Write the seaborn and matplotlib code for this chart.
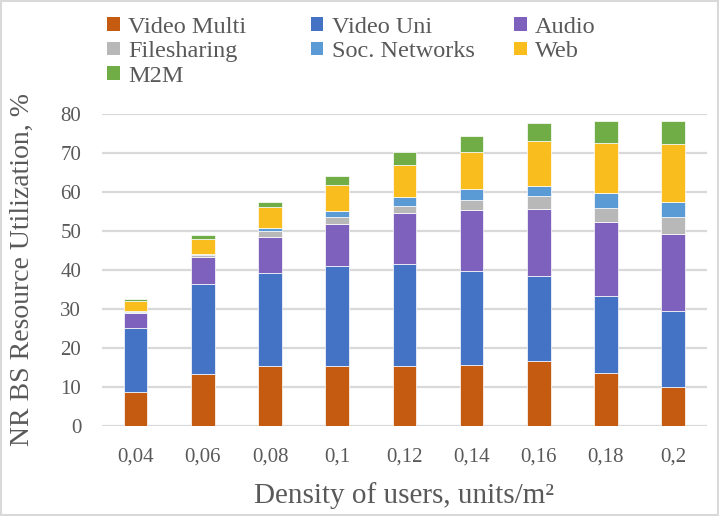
import numpy as np
import pandas as pd
import matplotlib
matplotlib.use("Agg")
import matplotlib.pyplot as plt
import seaborn as sns
from matplotlib.patches import Patch, Rectangle

# Densities of users (category labels use a decimal comma)
densities = ["0,04", "0,06", "0,08", "0,1", "0,12", "0,14", "0,16", "0,18", "0,2"]

# Per-service share of NR BS resource utilization, %
video_multi = [8.6, 13.3, 15.2, 15.2, 15.2, 15.7, 16.7, 13.4, 10.0]
video_uni = [16.5, 23.2, 24.1, 25.7, 26.2, 24.1, 21.8, 19.9, 19.5]
audio = [3.9, 6.7, 9.2, 10.8, 13.2, 15.6, 17.0, 18.9, 19.8]
filesharing = [0.3, 0.6, 1.4, 1.9, 1.9, 2.5, 3.4, 3.8, 4.3]
soc_networks = [0.2, 0.3, 0.9, 1.5, 2.2, 2.8, 2.7, 3.7, 3.8]
web = [2.6, 3.8, 5.3, 6.6, 8.1, 9.5, 11.5, 12.9, 14.8]
m2m = [0.4, 1.0, 1.3, 2.3, 3.5, 4.2, 4.7, 5.7, 6.1]

series_names = ["Video Multi", "Video Uni", "Audio", "Filesharing",
                "Soc. Networks", "Web", "M2M"]
series_values = [video_multi, video_uni, audio, filesharing,
                 soc_networks, web, m2m]
series_colors = ["#C55A11", "#4472C4", "#7E60BD", "#B8B8B8",
                 "#5B9BD5", "#FABD1E", "#70AD47"]

text_color = "#595959"

sns.set_theme(style="white")
plt.rcParams["font.family"] = ["Liberation Serif", "DejaVu Serif"]

records = []
for name, vals in zip(series_names, series_values):
    for d, v in zip(densities, vals):
        records.append({"density": d, "service": name, "value": v})
df = pd.DataFrame(records)

fig = plt.figure(figsize=(7.19, 5.16), dpi=100)
ax = fig.add_axes([0.142, 0.175, 0.841, 0.604])

bottom = np.zeros(len(densities))
for name, color in zip(series_names, series_colors):
    sub = df[df["service"] == name]
    sns.barplot(data=sub, x="density", y="value", order=densities,
                color=color, saturation=1, width=0.35, bottom=bottom,
                edgecolor="white", linewidth=0.5, ax=ax)
    bottom = bottom + sub["value"].to_numpy()

ax.set_ylim(0, 80)
ax.set_yticks(range(0, 81, 10))
ax.set_xlim(-0.5, len(densities) - 0.5)
ax.yaxis.grid(True, color="#D9D9D9", linewidth=1.6)
ax.set_axisbelow(True)
for s in ax.spines.values():
    s.set_visible(False)
ax.tick_params(axis="both", length=0, labelsize=15, colors=text_color)
ax.tick_params(axis="y", pad=15)
ax.tick_params(axis="x", pad=16)
ax.set_ylabel("NR BS Resource Utilization, %", fontsize=20,
              color=text_color, labelpad=18)
ax.set_xlabel("Density of users, units/m\u00b2", fontsize=21,
              color=text_color, labelpad=11)

# Legend: three fixed-width columns, filled row by row
columns = [[0, 3, 6], [1, 4], [2, 5]]
col_left = [0.119, 0.402, 0.685]
for idx_list, x0 in zip(columns, col_left):
    handles = [Patch(facecolor=series_colors[i], edgecolor="none") for i in idx_list]
    labels = [series_names[i] for i in idx_list]
    leg = fig.legend(handles, labels, loc="upper left", bbox_to_anchor=(x0, 1.01),
                     ncol=1, frameon=False, fontsize=17.5, handlelength=0.5,
                     handleheight=0.5, handletextpad=0.35,
                     labelspacing=0.14, labelcolor=text_color)

# Light chart border
fig.add_artist(Rectangle((0.002, 0.002), 0.996, 0.996, transform=fig.transFigure,
                         fill=False, edgecolor="#D9D9D9", linewidth=1.5))

fig.savefig("out.png", dpi=100)
